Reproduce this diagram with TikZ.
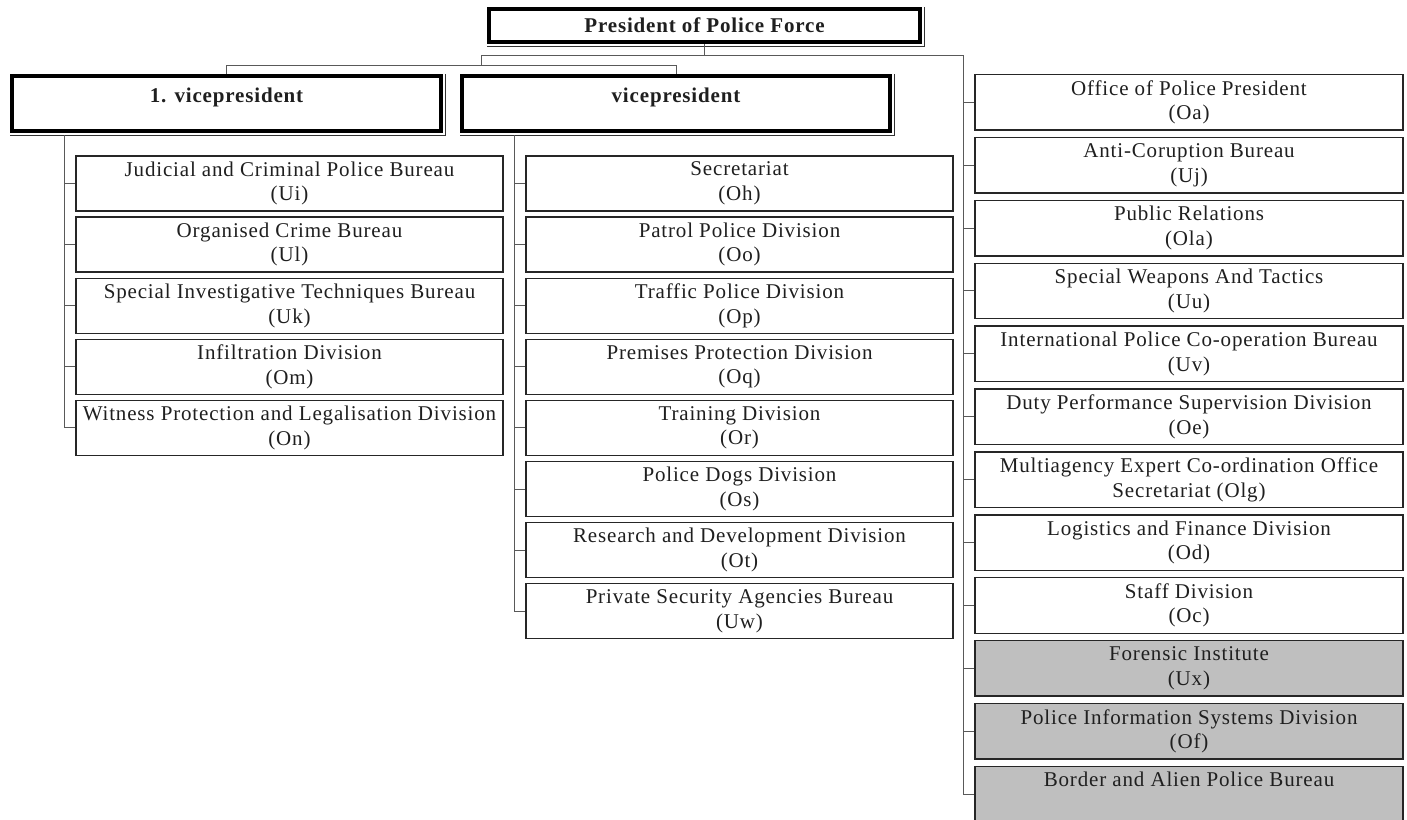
\documentclass[tikz,border=0pt]{standalone}
\usepackage{fontspec}
\setmainfont{Liberation Serif}
\newfontfamily\boxfont[LetterSpace=4]{Liberation Serif}
\begin{document}
\begin{tikzpicture}[x=1pt,y=-1pt,
  every node/.style={font=\boxfont\fontsize{21}{24.5}\selectfont, text=black!88},
  ubox/.style={draw=black!85, line width=1.4pt, minimum width=427, minimum height=55, inner sep=0pt, align=center, fill=white},
  gbox/.style={ubox, fill=black!25},
  head/.style={draw=black, line width=4pt, inner sep=0pt, fill=white, font=\boxfont\bfseries\fontsize{21}{24}\selectfont},
  conn/.style={draw=black!65, line width=1pt},
  shadowline/.style={draw=black!80, line width=0.9pt}]
\useasboundingbox (0,0) rectangle (1407,819);
\clip (0,0) rectangle (1407,819);

% heads
\node[head, minimum width=431, minimum height=33] (pres) at (704.5,25.5) {President of Police Force};
\node[head, minimum width=429, minimum height=55, text height=14.5pt, text depth=17pt] (vp1) at (226.5,103.5) {1. vicepresident};
\node[head, minimum width=428, minimum height=55, text height=14.5pt, text depth=17pt] (vp2) at (676,103.5) {vicepresident};

\foreach \n in {pres,vp1,vp2}{
  \draw[shadowline] ([shift={(2.5,0)}]\n.north east) -- ([shift={(2.5,2.5)}]\n.south east) -- ([shift={(0,2.5)}]\n.south west);
}

% left column
\foreach \i/\a/\b in {1/Judicial and Criminal Police Bureau/(Ui),
                      2/Organised Crime Bureau/(Ul),
                      3/Special Investigative Techniques Bureau/(Uk),
                      4/Infiltration Division/(Om),
                      5/Witness Protection and Legalisation Division/(On)}{
  \node[ubox] (l\i) at (289.5,{183.5+61.1*(\i-1)}) {\a\\\b};
}
% middle column
\foreach \i/\a/\b in {1/Secretariat/(Oh),
                      2/Patrol Police Division/(Oo),
                      3/Traffic Police Division/(Op),
                      4/Premises Protection Division/(Oq),
                      5/Training Division/(Or),
                      6/Police Dogs Division/(Os),
                      7/Research and Development Division/(Ot),
                      8/Private Security Agencies Bureau/(Uw)}{
  \node[ubox] (m\i) at (739.5,{183.5+61.1*(\i-1)}) {\a\\\b};
}
% right column
\foreach \i/\a/\b in {1/Office of Police President/(Oa),
                      2/Anti-Coruption Bureau/(Uj),
                      3/Public Relations/(Ola),
                      4/Special Weapons And Tactics/(Uu),
                      5/International Police Co-operation Bureau/(Uv),
                      6/Duty Performance Supervision Division/(Oe),
                      7/Multiagency Expert Co-ordination Office/Secretariat (Olg),
                      8/Logistics and Finance Division/(Od),
                      9/Staff Division/(Oc)}{
  \node[ubox, minimum width=428, minimum height=55.5] (r\i) at (1189,{102.25+62.9*(\i-1)}) {\a\\\b};
}
\foreach \i/\a/\b in {10/Forensic Institute/(Ux),
                      11/Police Information Systems Division/(Of),
                      12/Border and Alien Police Bureau/\phantom{(Ux)}}{
  \node[gbox, minimum width=428, minimum height=55.5] (r\i) at (1189,{102.25+62.9*(\i-1)}) {\a\\\b};
}

% connectors
\coordinate (j1) at (481,55);
\coordinate (j2) at (963,55);
\coordinate (j3) at (481,65);
\coordinate (lt) at (64,135);
\coordinate (mt) at (514,135);
\draw[conn] (pres.south) -- (pres.south |- j1);
\draw[conn] (j1) -- (j2) -- (j2 |- r12.west);
\draw[conn] (j1) -- (j3);
\draw[conn] (vp1.north) -- (vp1.north |- j3) -- (vp2.north |- j3) -- (vp2.north);
\draw[conn] (lt) -- (lt |- l5.west);
\draw[conn] (mt) -- (mt |- m8.west);
\foreach \i in {1,...,5} \draw[conn] (lt |- l\i.west) -- (l\i.west);
\foreach \i in {1,...,8} \draw[conn] (mt |- m\i.west) -- (m\i.west);
\foreach \i in {1,...,12} \draw[conn] (j2 |- r\i.west) -- (r\i.west);
\end{tikzpicture}
\end{document}
